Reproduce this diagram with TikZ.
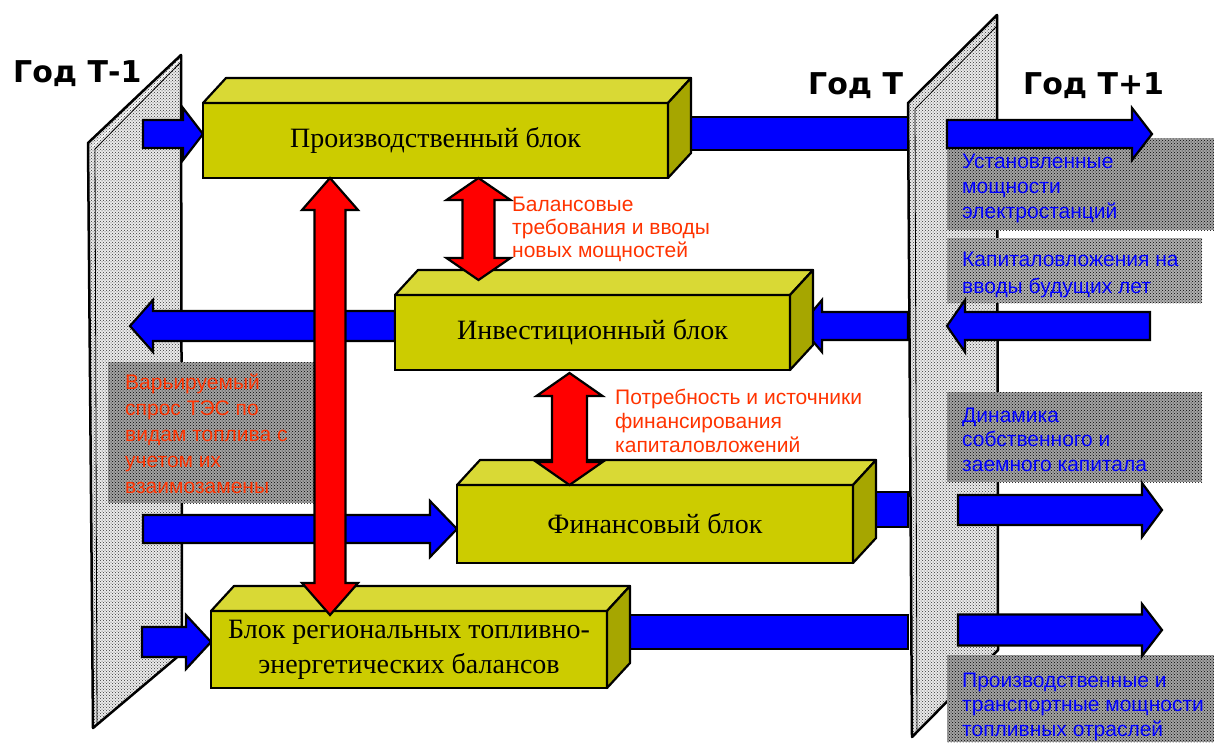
\documentclass[tikz,border=0pt]{standalone}
\usepackage{fontspec}
\setmainfont{Liberation Serif}
\setsansfont{Liberation Sans}
\newfontfamily\headfont{DejaVu Sans}
\usetikzlibrary{patterns,calc}
\pgfdeclarelayer{panels}
\pgfdeclarelayer{behind}
\pgfsetlayers{panels,behind,main}
\definecolor{blkfront}{HTML}{CCCC00}
\definecolor{blktop}{HTML}{D9D935}
\definecolor{blkside}{HTML}{A6A600}
\definecolor{lblred}{HTML}{FF3300}
\definecolor{arrblue}{HTML}{0000FF}
\newcommand{\blkfaces}[1]{%
  \filldraw[blocktopface] (#1.north west) -- ++(23,-25) -- ($(#1.north east)+(23,-25)$) -- (#1.north east) -- cycle;
  \filldraw[blocksideface] (#1.north east) -- ++(23,-25) -- ($(#1.south east)+(23,-25)$) -- (#1.south east) -- cycle;}
% right-pointing block arrow: #1 tail, #2 tip, #3 shaft half, #4 head half, #5 head length
\newcommand{\arrR}[5]{%
  \filldraw[bluearr] (#2) -- ($(#2)+(-#5,-#4)$) -- ($(#2)+(-#5,-#3)$) -- ($(#1)+(0,-#3)$) -- ($(#1)+(0,#3)$) -- ($(#2)+(-#5,#3)$) -- ($(#2)+(-#5,#4)$) -- cycle;}
\newcommand{\arrL}[5]{%
  \filldraw[bluearr] (#2) -- ($(#2)+(#5,-#4)$) -- ($(#2)+(#5,-#3)$) -- ($(#1)+(0,-#3)$) -- ($(#1)+(0,#3)$) -- ($(#2)+(#5,#3)$) -- ($(#2)+(#5,#4)$) -- cycle;}
% vertical double arrow: #1 top tip, #2 bottom tip, #3 shaft half, #4 head half, #5 head length
\newcommand{\arrUD}[5]{%
  \filldraw[redarr] (#1) -- ($(#1)+(#4,#5)$) -- ($(#1)+(#3,#5)$) -- ($(#2)+(#3,-#5)$) -- ($(#2)+(#4,-#5)$) -- (#2) -- ($(#2)+(-#4,-#5)$) -- ($(#2)+(-#3,-#5)$) -- ($(#1)+(-#3,#5)$) -- ($(#1)+(-#4,#5)$) -- cycle;}
\begin{document}
\begin{tikzpicture}[x=1pt,y=-1pt,
  panelshape/.style={preaction={fill=gray!16},pattern=crosshatch dots,pattern color=black!80,draw=black,line width=2.5pt,line join=round},
  darkbox/.style={preaction={fill=gray!72},pattern=crosshatch dots,pattern color=black},
  checkbox/.style={preaction={fill=gray!62},pattern=crosshatch dots,pattern color=black},
  bluearr/.style={fill=arrblue,draw=black,line width=2.2pt,line join=miter},
  redarr/.style={fill=red,draw=black,line width=2.2pt,line join=miter},
  blockfront/.style={draw=black,line width=2.2pt,fill=blkfront,inner sep=0pt,outer sep=0pt,anchor=north west,
    font=\fontsize{28}{35}\selectfont,align=center},
  blocktopface/.style={fill=blktop,draw=black,line width=2.2pt,line join=round},
  blocksideface/.style={fill=blkside,draw=black,line width=2.2pt,line join=round},
  lbl/.style={font=\sffamily\fontsize{21}{24.5}\selectfont,align=left,inner sep=0pt,anchor=base west},
  yearhead/.style={font=\headfont\bfseries\fontsize{30}{30}\selectfont,inner sep=0pt,anchor=base west}]
\useasboundingbox (0,0) rectangle (1214,742);

% ---------- panels and text boxes ----------
\begin{pgfonlayer}{panels}
  \path[panelshape] (88,143) -- (181,55) -- (182,653) -- (93,728) -- cycle;
  \draw[white,line width=0.9pt] (92,147) -- (180,60);
  \draw[black,line width=0.8pt] (95,149) -- (180,63) (95,149) -- (97,724);
  \path[panelshape] (908,103) -- (997,15) -- (998,650) -- (912,737) -- cycle;
  \draw[black,line width=0.8pt] (915,109) -- (996,27) (915,109) -- (917,730);
  \path[darkbox] (947,138) rectangle (1214,230);
  \path[checkbox] (947,238) rectangle (1202,303);
  \path[darkbox] (947,392) rectangle (1202,482);
  \path[darkbox] (947,655) rectangle (1214,742);
  \path[darkbox] (108,362) rectangle (315,503);
\end{pgfonlayer}

% ---------- blocks ----------
\node[blockfront,minimum width=465pt,minimum height=75pt] (b1) at (203,103) {Производственный блок};
\node[blockfront,minimum width=395pt,minimum height=75pt] (b2) at (395,295) {Инвестиционный блок};
\node[blockfront,minimum width=396pt,minimum height=78pt] (b3) at (457,485) {Финансовый блок};
\node[blockfront,minimum width=396pt,minimum height=77pt] (b4) at (211,611) {Блок региональных топливно-\\энергетических балансов};
\blkfaces{b1}
\blkfaces{b2}
\blkfaces{b3}
\blkfaces{b4}

% ---------- blue arrows ----------
\coordinate (pL) at (143,0);
\coordinate (pTin) at (908,0);
\coordinate (pTout) at (947,0);
\coordinate (a1t) at (143,134);
\coordinate (a2r) at (947,134);
\coordinate (a2tip) at (1152,134);
\coordinate (a3t) at (1150,326);
\coordinate (a3p) at (908,326);
\coordinate (a3tip) at (800,326);
\coordinate (a4tip) at (130,326);
\coordinate (a5t) at (143,529);
\coordinate (a6r) at (958,510);
\coordinate (a6tip) at (1162,510);
\coordinate (a7t) at (142,642);
\coordinate (a8r) at (958,630);
\coordinate (a8tip) at (1162,630);
\begin{pgfonlayer}{behind}
  \arrR{a1t}{b1.west |- a1t}{14}{26}{20}
  \filldraw[bluearr] ($(b1.north east)+(10,14)$) rectangle (pTin |- 0,150);
  \arrR{a2r}{a2tip}{14}{26}{20}
  \arrL{a3t}{pTout |- a3t}{14}{26}{18}
  \arrL{a3p}{a3tip}{14}{26}{22}
  \arrL{b2.west |- a4tip}{a4tip}{15}{26}{23}
  \arrR{a5t}{b3.west |- a5t}{14}{28}{27}
  \filldraw[bluearr] ($(b3.north east)+(10,7)$) rectangle (pTin |- 0,527);
  \arrR{a6r}{a6tip}{15}{27}{20}
  \arrR{a7t}{b4.west |- a7t}{15}{27}{25}
  \filldraw[bluearr] ($(b4.north east)+(13,4)$) rectangle (pTin |- 0,649);
  \arrR{a8r}{a8tip}{15.5}{26}{20}
\end{pgfonlayer}

% ---------- red double arrows ----------
\coordinate (r1c) at (330,0);
\coordinate (r2c) at (478.5,0);
\coordinate (r3c) at (569.5,0);
\arrUD{r1c |- b1.south}{$(r1c |- b4.north)+(0,4)$}{15.5}{28}{32}
\arrUD{r2c |- b1.south}{$(r2c |- b2.north)+(0,-15)$}{16}{32}{22}
\arrUD{$(r3c |- b2.south)+(0,3)$}{r3c |- b3.north}{17.5}{33}{23}

% ---------- texts (anchor = baseline of the last line) ----------
\node[yearhead] (y0) at (13,82) {Год Т-1};
\node[yearhead] (y1) at (808,94) {Год Т};
\node[yearhead] (y2) at (1023,94) {Год Т+1};

\node[lbl,text=lblred,font=\sffamily\fontsize{21}{23}\selectfont] (l1) at (512,257) {Балансовые\\требования и вводы\\новых мощностей};
\node[lbl,text=lblred,font=\sffamily\fontsize{21}{24}\selectfont] (l2) at (615,452) {Потребность и источники\\финансирования\\капиталовложений};
\node[lbl,text=lblred,font=\sffamily\fontsize{21}{25.8}\selectfont] (l3) at (125,493) {Варьируемый\\спрос ТЭС по\\видам топлива с\\учетом их\\взаимозамены};

\node[lbl,text=arrblue,font=\sffamily\fontsize{21}{25}\selectfont] (t1) at (962,218) {Установленные\\мощности\\электростанций};
\node[lbl,text=arrblue,font=\sffamily\fontsize{21}{27}\selectfont] (t2) at (962,293) {Капиталовложения на\\вводы будущих лет};
\node[lbl,text=arrblue,font=\sffamily\fontsize{21}{24.5}\selectfont] (t3) at (962,471) {Динамика\\собственного и\\заемного капитала};
\node[lbl,text=arrblue,font=\sffamily\fontsize{21}{24.5}\selectfont] (t4) at (962,736) {Производственные и\\транспортные мощности\\топливных отраслей};
\end{tikzpicture}
\end{document}
